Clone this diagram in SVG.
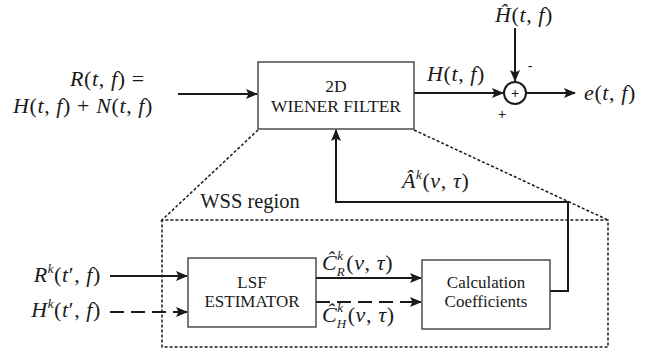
<svg xmlns="http://www.w3.org/2000/svg" width="662" height="354" viewBox="0 0 662 354">
<defs>
<marker id="ah" markerWidth="12" markerHeight="10" viewBox="0 0 12 10" refX="11" refY="5" orient="auto" markerUnits="userSpaceOnUse">
<path d="M0,0 L12,5 L0,10 L2.5,5 Z" fill="#1a1a1a"/>
</marker>
</defs>

<g id="connectors" fill="none" stroke="#1a1a1a" stroke-width="2">
<line x1="178" y1="94" x2="257" y2="94" marker-end="url(#ah)"/>
<line x1="414" y1="93" x2="503" y2="93" marker-end="url(#ah)"/>
<line x1="515" y1="28" x2="515" y2="81" marker-end="url(#ah)"/>
<line x1="526" y1="93" x2="575" y2="93" marker-end="url(#ah)"/>
<polyline points="550,291 568,291 568,202 336,202 336,130" marker-end="url(#ah)"/>
<line x1="110" y1="276" x2="187" y2="276" marker-end="url(#ah)"/>
<line x1="110" y1="312" x2="178" y2="312" stroke-dasharray="14 7"/>
<line x1="176" y1="312" x2="187" y2="312" marker-end="url(#ah)"/>
<line x1="316" y1="278" x2="421" y2="278" marker-end="url(#ah)"/>
<line x1="316" y1="302" x2="410" y2="302" stroke-dasharray="14 7"/>
<line x1="408" y1="302" x2="421" y2="302" marker-end="url(#ah)"/>
<polyline points="258,130 162,220 608,220 608,347 162,347 162,220" stroke-width="1.5" stroke-dasharray="3 2"/>
<line x1="414" y1="130" x2="608" y2="220" stroke-width="1.5" stroke-dasharray="3 2"/>
</g>

<g id="wiener">
<rect x="258" y="62" width="156" height="67" fill="#fff" stroke="#333" stroke-width="1.3"/>
<text font-family="Liberation Serif" font-size="17.5" fill="#1a1a1a" text-anchor="middle" x="336" y="92">2D</text>
<text font-family="Liberation Serif" font-size="17.5" fill="#1a1a1a" text-anchor="middle" x="336" y="112">WIENER FILTER</text>
</g>

<g id="sum">
<circle cx="515" cy="93" r="11" fill="#fff" stroke="#1a1a1a" stroke-width="2"/>
<text font-family="Liberation Sans" font-size="14" fill="#1a1a1a" text-anchor="middle" x="515" y="98">+</text>
<text font-family="Liberation Sans" font-size="14" fill="#1a1a1a" text-anchor="middle" x="530" y="71">-</text>
<text font-family="Liberation Sans" font-size="14" fill="#1a1a1a" text-anchor="middle" x="502" y="119">+</text>
</g>

<g id="lsf">
<rect x="188" y="258" width="128" height="69" fill="#fff" stroke="#333" stroke-width="1.3"/>
<text font-family="Liberation Serif" font-size="17" fill="#1a1a1a" text-anchor="middle" x="252" y="288">LSF</text>
<text font-family="Liberation Serif" font-size="17" fill="#1a1a1a" text-anchor="middle" x="252" y="307">ESTIMATOR</text>
</g>

<g id="calc">
<rect x="422" y="260" width="128" height="69" fill="#fff" stroke="#333" stroke-width="1.3"/>
<text font-family="Liberation Serif" font-size="17" fill="#1a1a1a" text-anchor="middle" x="486" y="288">Calculation</text>
<text font-family="Liberation Serif" font-size="17" fill="#1a1a1a" text-anchor="middle" x="486" y="307">Coefficients</text>
</g>

<g id="labels">
<text font-family="Liberation Serif" font-size="22" letter-spacing="0.6" fill="#1a1a1a" x="70" y="86"><tspan font-style="italic">R</tspan>(<tspan font-style="italic">t</tspan>, <tspan font-style="italic">f</tspan>) =</text>
<text font-family="Liberation Serif" font-size="22" letter-spacing="0.6" fill="#1a1a1a" x="13" y="113"><tspan font-style="italic">H</tspan>(<tspan font-style="italic">t</tspan>, <tspan font-style="italic">f</tspan>) + <tspan font-style="italic">N</tspan>(<tspan font-style="italic">t</tspan>, <tspan font-style="italic">f</tspan>)</text>
<text font-family="Liberation Serif" font-size="22" letter-spacing="0.6" fill="#1a1a1a" x="427" y="81"><tspan font-style="italic">H</tspan>(<tspan font-style="italic">t</tspan>, <tspan font-style="italic">f</tspan>)</text>
<text font-family="Liberation Serif" font-size="22" letter-spacing="0.6" fill="#1a1a1a" x="495" y="22"><tspan font-style="italic">&#292;</tspan>(<tspan font-style="italic">t</tspan>, <tspan font-style="italic">f</tspan>)</text>
<text font-family="Liberation Serif" font-size="22" letter-spacing="0.6" fill="#1a1a1a" x="584" y="100"><tspan font-style="italic">e</tspan>(<tspan font-style="italic">t</tspan>, <tspan font-style="italic">f</tspan>)</text>
<text font-family="Liberation Serif" font-size="22" letter-spacing="0.6" fill="#1a1a1a" x="402" y="188"><tspan font-style="italic">&#194;</tspan><tspan font-style="italic" font-size="13" dy="-9">k</tspan><tspan dy="9">(</tspan><tspan font-style="italic">&#957;</tspan>, <tspan font-style="italic">&#964;</tspan>)</text>
<text font-family="Liberation Serif" font-size="20.5" fill="#1a1a1a" text-anchor="middle" x="250" y="208">WSS region</text>
<text font-family="Liberation Serif" font-size="22" letter-spacing="0.6" fill="#1a1a1a" x="101" y="282" text-anchor="end"><tspan font-style="italic">R</tspan><tspan font-style="italic" font-size="13" dy="-9">k</tspan><tspan dy="9">(</tspan><tspan font-style="italic">t</tspan>&#8242;, <tspan font-style="italic">f</tspan>)</text>
<text font-family="Liberation Serif" font-size="22" letter-spacing="0.6" fill="#1a1a1a" x="101" y="317" text-anchor="end"><tspan font-style="italic">H</tspan><tspan font-style="italic" font-size="13" dy="-9">k</tspan><tspan dy="9">(</tspan><tspan font-style="italic">t</tspan>&#8242;, <tspan font-style="italic">f</tspan>)</text>
<text font-family="Liberation Serif" font-size="22" letter-spacing="0.6" fill="#1a1a1a" x="322" y="270"><tspan font-style="italic">&#264;</tspan><tspan font-style="italic" font-size="13" dy="-10">k</tspan><tspan font-style="italic" font-size="13" dx="-7" dy="16">R</tspan><tspan dx="1" dy="-6">(</tspan><tspan font-style="italic">&#957;</tspan>, <tspan font-style="italic">&#964;</tspan>)</text>
<text font-family="Liberation Serif" font-size="22" letter-spacing="0.6" fill="#1a1a1a" x="322" y="322"><tspan font-style="italic">&#264;</tspan><tspan font-style="italic" font-size="13" dy="-10">k</tspan><tspan font-style="italic" font-size="13" dx="-7" dy="16">H</tspan><tspan dx="1" dy="-6">(</tspan><tspan font-style="italic">&#957;</tspan>, <tspan font-style="italic">&#964;</tspan>)</text>
</g>
</svg>
